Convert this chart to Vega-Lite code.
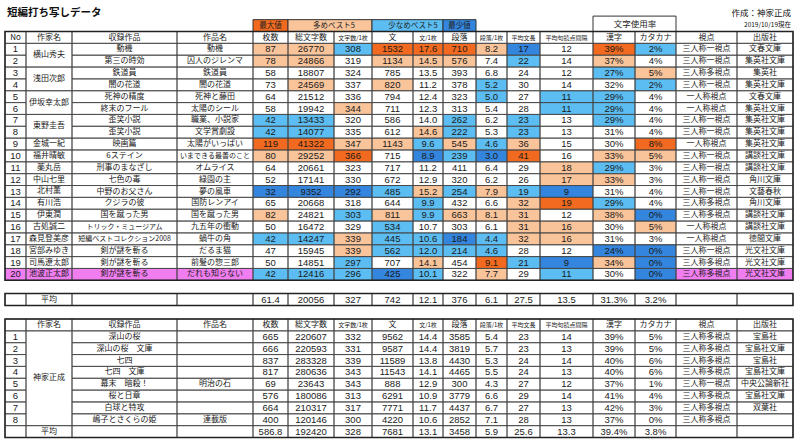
{
"$schema":"https://vega.github.io/schema/vega-lite/v6.json",
"width":800,"height":444,"padding":0,"autosize":{"type":"none"},"background":"white",
"config":{"view":{"stroke":null},"font":"Noto Sans CJK JP"},
"datasets":{
"cols":[{"k":"no","c":0,"ce":1,"cm":0.5},{"k":"au","c":1,"ce":2,"cm":1.5},{"k":"col","c":2,"ce":3,"cm":2.5},{"k":"title","c":3,"ce":4,"cm":3.5},{"k":"sheets","c":4,"ce":5,"cm":4.5},{"k":"chars","c":5,"ce":6,"cm":5.5},{"k":"cpp","c":6,"ce":7,"cm":6.5},{"k":"sent","c":7,"ce":8,"cm":7.5},{"k":"spp","c":8,"ce":9,"cm":8.5},{"k":"para","c":9,"ce":10,"cm":9.5},{"k":"ppp","c":10,"ce":11,"cm":10.5},{"k":"slen","c":11,"ce":12,"cm":11.5},{"k":"pint","c":12,"ce":13,"cm":12.5},{"k":"kanji","c":13,"ce":14,"cm":13.5},{"k":"kata","c":14,"ce":15,"cm":14.5},{"k":"pov","c":15,"ce":16,"cm":15.5},{"k":"pub","c":16,"ce":17,"cm":16.5}],
"rows":[
{"r":0,"re":1,"no":"No","au":"作家名","col":"収録作品","title":"作品名","sheets":"枚数","chars":"総文字数","cpp":"文字数/1枚","sent":"文","spp":"文/1枚","para":"段落","ppp":"段落/1枚","slen":"平均文長","pint":"平均句読点間隔","kanji":"漢字","kata":"カタカナ","pov":"視点","pub":"出版社"},
{"r":1,"re":2,"no":"1","col":"動機","title":"動機","sheets":"87","chars":"26770","cpp":"308","sent":"1532","spp":"17.6","para":"710","ppp":"8.2","slen":"17","pint":"12","kanji":"39%","kata":"2%","pov":"三人称一視点","pub":"文春文庫"},
{"r":2,"re":3,"no":"2","col":"第三の時効","title":"囚人のジレンマ","sheets":"78","chars":"24866","cpp":"319","sent":"1134","spp":"14.5","para":"576","ppp":"7.4","slen":"22","pint":"14","kanji":"37%","kata":"4%","pov":"三人称一視点","pub":"集英社文庫"},
{"r":3,"re":4,"no":"3","col":"鉄道員","title":"鉄道員","sheets":"58","chars":"18807","cpp":"324","sent":"785","spp":"13.5","para":"393","ppp":"6.8","slen":"24","pint":"12","kanji":"27%","kata":"5%","pov":"三人称多視点","pub":"集英社"},
{"r":4,"re":5,"no":"4","col":"闇の花道","title":"闇の花道","sheets":"73","chars":"24569","cpp":"337","sent":"820","spp":"11.2","para":"378","ppp":"5.2","slen":"30","pint":"14","kanji":"32%","kata":"2%","pov":"三人称一視点","pub":"集英社文庫"},
{"r":5,"re":6,"no":"5","col":"死神の精度","title":"死神と藤田","sheets":"64","chars":"21512","cpp":"336","sent":"794","spp":"12.4","para":"323","ppp":"5.0","slen":"27","pint":"11","kanji":"29%","kata":"4%","pov":"一人称視点","pub":"文春文庫"},
{"r":6,"re":7,"no":"6","col":"終末のフール","title":"太陽のシール","sheets":"58","chars":"19942","cpp":"344","sent":"711","spp":"12.3","para":"313","ppp":"5.4","slen":"28","pint":"11","kanji":"29%","kata":"4%","pov":"一人称視点","pub":"集英社文庫"},
{"r":7,"re":8,"no":"7","col":"歪笑小説","title":"職業、小説家","sheets":"42","chars":"13433","cpp":"320","sent":"586","spp":"14.0","para":"262","ppp":"6.2","slen":"23","pint":"13","kanji":"29%","kata":"4%","pov":"三人称一視点","pub":"集英社文庫"},
{"r":8,"re":9,"no":"8","col":"歪笑小説","title":"文学賞劇設","sheets":"42","chars":"14077","cpp":"335","sent":"612","spp":"14.6","para":"222","ppp":"5.3","slen":"23","pint":"13","kanji":"31%","kata":"4%","pov":"三人称一視点","pub":"集英社文庫"},
{"r":9,"re":10,"no":"9","col":"映画篇","title":"太陽がいっぱい","sheets":"119","chars":"41322","cpp":"347","sent":"1143","spp":"9.6","para":"545","ppp":"4.6","slen":"36","pint":"15","kanji":"30%","kata":"8%","pov":"一人称視点","pub":"集英社文庫"},
{"r":10,"re":11,"no":"10","col":"6ステイン","title":"いまできる最善のこと","sheets":"80","chars":"29252","cpp":"366","sent":"715","spp":"8.9","para":"239","ppp":"3.0","slen":"41","pint":"16","kanji":"33%","kata":"5%","pov":"三人称一視点","pub":"講談社文庫"},
{"r":11,"re":12,"no":"11","col":"刑事のまなざし","title":"オムライス","sheets":"64","chars":"20661","cpp":"323","sent":"717","spp":"11.2","para":"411","ppp":"6.4","slen":"29","pint":"18","kanji":"29%","kata":"3%","pov":"三人称一視点","pub":"講談社文庫"},
{"r":12,"re":13,"no":"12","col":"七色の毒","title":"緑園の主","sheets":"52","chars":"17141","cpp":"330","sent":"672","spp":"12.9","para":"320","ppp":"6.2","slen":"26","pint":"17","kanji":"33%","kata":"3%","pov":"三人称一視点","pub":"角川文庫"},
{"r":13,"re":14,"no":"13","col":"中野のお父さん","title":"夢の風車","sheets":"32","chars":"9352","cpp":"292","sent":"485","spp":"15.2","para":"254","ppp":"7.9","slen":"19","pint":"9","kanji":"31%","kata":"4%","pov":"三人称一視点","pub":"文藝春秋"},
{"r":14,"re":15,"no":"14","col":"クジラの彼","title":"国防レンアイ","sheets":"65","chars":"20668","cpp":"318","sent":"644","spp":"9.9","para":"432","ppp":"6.6","slen":"32","pint":"19","kanji":"29%","kata":"4%","pov":"三人称多視点","pub":"角川文庫"},
{"r":15,"re":16,"no":"15","col":"国を蹴った男","title":"国を蹴った男","sheets":"82","chars":"24821","cpp":"303","sent":"811","spp":"9.9","para":"663","ppp":"8.1","slen":"31","pint":"12","kanji":"38%","kata":"0%","pov":"三人称多視点","pub":"講談社文庫"},
{"r":16,"re":17,"no":"16","col":"トリック・ミュージアム","title":"九五年の衝動","sheets":"50","chars":"16472","cpp":"329","sent":"534","spp":"10.7","para":"303","ppp":"6.1","slen":"31","pint":"16","kanji":"30%","kata":"5%","pov":"一人称視点","pub":"講談社文庫"},
{"r":17,"re":18,"no":"17","col":"短編ベストコレクション2008","title":"蝸牛の角","sheets":"42","chars":"14247","cpp":"339","sent":"445","spp":"10.6","para":"184","ppp":"4.4","slen":"32","pint":"16","kanji":"31%","kata":"3%","pov":"一人称視点","pub":"徳間文庫"},
{"r":18,"re":19,"no":"18","col":"剣が謎を斬る","title":"だるま猫","sheets":"47","chars":"15945","cpp":"339","sent":"562","spp":"12.0","para":"214","ppp":"4.6","slen":"28","pint":"12","kanji":"24%","kata":"0%","pov":"三人称一視点","pub":"光文社文庫"},
{"r":19,"re":20,"no":"19","col":"剣が謎を斬る","title":"前髪の惣三郎","sheets":"50","chars":"14851","cpp":"297","sent":"707","spp":"14.1","para":"454","ppp":"9.1","slen":"21","pint":"9","kanji":"34%","kata":"0%","pov":"三人称多視点","pub":"光文社文庫"},
{"r":20,"re":21,"no":"20","col":"剣が謎を斬る","title":"だれも知らない","sheets":"42","chars":"12416","cpp":"296","sent":"425","spp":"10.1","para":"322","ppp":"7.7","slen":"29","pint":"11","kanji":"30%","kata":"0%","pov":"三人称多視点","pub":"光文社文庫"},
{"r":22,"re":23,"no":"","au":"平均","col":"","title":"","sheets":"61.4","chars":"20056","cpp":"327","sent":"742","spp":"12.1","para":"376","ppp":"6.1","slen":"27.5","pint":"13.5","kanji":"31.3%","kata":"3.2%","pov":"","pub":""},
{"r":24,"re":25,"no":"","au":"作家名","col":"収録作品","title":"作品名","sheets":"枚数","chars":"総文字数","cpp":"文字数/1枚","sent":"文","spp":"文/1枚","para":"段落","ppp":"段落/1枚","slen":"平均文長","pint":"平均句読点間隔","kanji":"漢字","kata":"カタカナ","pov":"視点","pub":"出版社"},
{"r":25,"re":26,"no":"1","col":"深山の桜","title":"","sheets":"665","chars":"220607","cpp":"332","sent":"9562","spp":"14.4","para":"3585","ppp":"5.4","slen":"23","pint":"14","kanji":"39%","kata":"5%","pov":"三人称多視点","pub":"宝島社"},
{"r":26,"re":27,"no":"2","col":"深山の桜　文庫","title":"","sheets":"666","chars":"220593","cpp":"331","sent":"9587","spp":"14.4","para":"3819","ppp":"5.7","slen":"23","pint":"13","kanji":"39%","kata":"5%","pov":"三人称多視点","pub":"宝島社文庫"},
{"r":27,"re":28,"no":"3","col":"七四","title":"","sheets":"837","chars":"283328","cpp":"339","sent":"11589","spp":"13.8","para":"4430","ppp":"5.3","slen":"24","pint":"14","kanji":"40%","kata":"6%","pov":"三人称多視点","pub":"宝島社"},
{"r":28,"re":29,"no":"4","col":"七四　文庫","title":"","sheets":"817","chars":"280636","cpp":"343","sent":"11543","spp":"14.1","para":"4465","ppp":"5.5","slen":"24","pint":"13","kanji":"40%","kata":"6%","pov":"三人称多視点","pub":"宝島社文庫"},
{"r":29,"re":30,"no":"5","col":"幕末　暗殺！","title":"明治の石","sheets":"69","chars":"23643","cpp":"343","sent":"888","spp":"12.9","para":"300","ppp":"4.3","slen":"27","pint":"12","kanji":"37%","kata":"1%","pov":"三人称一視点","pub":"中央公論新社"},
{"r":30,"re":31,"no":"6","col":"桜と日章","title":"","sheets":"576","chars":"180086","cpp":"313","sent":"6291","spp":"10.9","para":"3779","ppp":"6.6","slen":"29","pint":"14","kanji":"41%","kata":"4%","pov":"三人称多視点","pub":"宝島社文庫"},
{"r":31,"re":32,"no":"7","col":"白球と特攻","title":"","sheets":"664","chars":"210317","cpp":"317","sent":"7771","spp":"11.7","para":"4437","ppp":"6.7","slen":"27","pint":"13","kanji":"42%","kata":"3%","pov":"三人称多視点","pub":"双葉社"},
{"r":32,"re":33,"no":"8","col":"嶋子とさくらの姫","title":"連載版","sheets":"400","chars":"120146","cpp":"300","sent":"4220","spp":"10.6","para":"2852","ppp":"7.1","slen":"28","pint":"13","kanji":"37%","kata":"0%","pov":"三人称多視点","pub":""},
{"r":33,"re":34,"no":"","au":"平均","col":"","title":"","sheets":"586.8","chars":"192420","cpp":"328","sent":"7681","spp":"13.1","para":"3458","ppp":"5.9","slen":"25.6","pint":"13.3","kanji":"39.4%","kata":"3.8%","pov":"","pub":""}
],
"authors":[
{"r":1,"re":3,"rm":2,"v":"横山秀夫"},{"r":3,"re":5,"rm":4,"v":"浅田次郎"},{"r":5,"re":7,"rm":6,"v":"伊坂幸太郎"},{"r":7,"re":9,"rm":8,"v":"東野圭吾"},
{"r":9,"re":10,"rm":9.5,"v":"金城一紀"},{"r":10,"re":11,"rm":10.5,"v":"福井晴敏"},{"r":11,"re":12,"rm":11.5,"v":"薬丸岳"},{"r":12,"re":13,"rm":12.5,"v":"中山七里"},
{"r":13,"re":14,"rm":13.5,"v":"北村薫"},{"r":14,"re":15,"rm":14.5,"v":"有川浩"},{"r":15,"re":16,"rm":15.5,"v":"伊東潤"},{"r":16,"re":17,"rm":16.5,"v":"古処誠二"},
{"r":17,"re":18,"rm":17.5,"v":"森見登美彦"},{"r":18,"re":19,"rm":18.5,"v":"宮部みゆき"},{"r":19,"re":20,"rm":19.5,"v":"司馬遼太郎"},{"r":20,"re":21,"rm":20.5,"v":"池波正太郎"},
{"r":25,"re":33,"rm":29,"v":"神家正成"}
],
"hl":[
{"r":1,"k":"sheets","h":"top"},{"r":1,"k":"chars","h":"top"},{"r":1,"k":"cpp","h":"low"},{"r":1,"k":"sent","h":"max"},{"r":1,"k":"spp","h":"max"},{"r":1,"k":"para","h":"max"},{"r":1,"k":"ppp","h":"top"},{"r":1,"k":"slen","h":"min"},{"r":1,"k":"kanji","h":"max"},{"r":1,"k":"kata","h":"low"},
{"r":2,"k":"sheets","h":"top"},{"r":2,"k":"chars","h":"top"},{"r":2,"k":"sent","h":"top"},{"r":2,"k":"spp","h":"top"},{"r":2,"k":"para","h":"top"},{"r":2,"k":"slen","h":"low"},{"r":2,"k":"kanji","h":"top"},
{"r":3,"k":"kanji","h":"low"},{"r":3,"k":"kata","h":"top"},
{"r":4,"k":"chars","h":"top"},{"r":4,"k":"sent","h":"top"},{"r":4,"k":"ppp","h":"low"},{"r":4,"k":"kata","h":"low"},
{"r":5,"k":"ppp","h":"low"},{"r":5,"k":"pint","h":"low"},{"r":5,"k":"kanji","h":"low"},
{"r":6,"k":"cpp","h":"top"},{"r":6,"k":"pint","h":"low"},{"r":6,"k":"kanji","h":"low"},
{"r":7,"k":"sheets","h":"low"},{"r":7,"k":"chars","h":"low"},{"r":7,"k":"para","h":"low"},{"r":7,"k":"slen","h":"low"},{"r":7,"k":"kanji","h":"low"},
{"r":8,"k":"sheets","h":"low"},{"r":8,"k":"chars","h":"low"},{"r":8,"k":"spp","h":"top"},{"r":8,"k":"para","h":"low"},{"r":8,"k":"slen","h":"low"},
{"r":9,"k":"sheets","h":"max"},{"r":9,"k":"chars","h":"max"},{"r":9,"k":"cpp","h":"top"},{"r":9,"k":"sent","h":"top"},{"r":9,"k":"spp","h":"low"},{"r":9,"k":"para","h":"top"},{"r":9,"k":"ppp","h":"low"},{"r":9,"k":"slen","h":"top"},{"r":9,"k":"kata","h":"max"},
{"r":10,"k":"sheets","h":"top"},{"r":10,"k":"chars","h":"top"},{"r":10,"k":"cpp","h":"max"},{"r":10,"k":"spp","h":"min"},{"r":10,"k":"para","h":"low"},{"r":10,"k":"ppp","h":"min"},{"r":10,"k":"slen","h":"max"},{"r":10,"k":"kanji","h":"top"},{"r":10,"k":"kata","h":"top"},
{"r":11,"k":"pint","h":"top"},{"r":11,"k":"kanji","h":"low"},
{"r":12,"k":"pint","h":"top"},{"r":12,"k":"kanji","h":"top"},
{"r":13,"k":"sheets","h":"min"},{"r":13,"k":"chars","h":"min"},{"r":13,"k":"cpp","h":"min"},{"r":13,"k":"sent","h":"low"},{"r":13,"k":"spp","h":"top"},{"r":13,"k":"para","h":"low"},{"r":13,"k":"ppp","h":"top"},{"r":13,"k":"slen","h":"low"},{"r":13,"k":"pint","h":"min"},
{"r":14,"k":"spp","h":"low"},{"r":14,"k":"slen","h":"top"},{"r":14,"k":"pint","h":"max"},{"r":14,"k":"kanji","h":"low"},
{"r":15,"k":"sheets","h":"top"},{"r":15,"k":"cpp","h":"low"},{"r":15,"k":"sent","h":"top"},{"r":15,"k":"spp","h":"low"},{"r":15,"k":"para","h":"top"},{"r":15,"k":"ppp","h":"top"},{"r":15,"k":"slen","h":"top"},{"r":15,"k":"kanji","h":"top"},{"r":15,"k":"kata","h":"min"},
{"r":16,"k":"sent","h":"low"},{"r":16,"k":"slen","h":"top"},{"r":16,"k":"pint","h":"top"},{"r":16,"k":"kata","h":"top"},
{"r":17,"k":"sheets","h":"low"},{"r":17,"k":"chars","h":"low"},{"r":17,"k":"cpp","h":"top"},{"r":17,"k":"sent","h":"low"},{"r":17,"k":"spp","h":"low"},{"r":17,"k":"para","h":"min"},{"r":17,"k":"ppp","h":"low"},{"r":17,"k":"slen","h":"top"},{"r":17,"k":"pint","h":"top"},
{"r":18,"k":"cpp","h":"top"},{"r":18,"k":"sent","h":"low"},{"r":18,"k":"spp","h":"low"},{"r":18,"k":"para","h":"low"},{"r":18,"k":"ppp","h":"low"},{"r":18,"k":"kanji","h":"min"},{"r":18,"k":"kata","h":"min"},
{"r":19,"k":"cpp","h":"low"},{"r":19,"k":"spp","h":"top"},{"r":19,"k":"ppp","h":"max"},{"r":19,"k":"slen","h":"low"},{"r":19,"k":"pint","h":"min"},{"r":19,"k":"kanji","h":"top"},{"r":19,"k":"kata","h":"min"},
{"r":20,"k":"no","h":"pick"},{"r":20,"k":"au","h":"pick"},{"r":20,"k":"col","h":"pick"},{"r":20,"k":"title","h":"pick"},{"r":20,"k":"sheets","h":"low"},{"r":20,"k":"chars","h":"low"},{"r":20,"k":"cpp","h":"low"},{"r":20,"k":"sent","h":"min"},{"r":20,"k":"spp","h":"low"},{"r":20,"k":"ppp","h":"top"},{"r":20,"k":"pint","h":"low"},{"r":20,"k":"kata","h":"min"},{"r":20,"k":"pov","h":"pick"},{"r":20,"k":"pub","h":"pick"}
],
"legend":[
{"label":"最大値","h":"max","c":4,"ce":5,"cm":4.5,"r":-1,"re":0,"rm":-0.5},
{"label":"多めベスト5","h":"top","c":5,"ce":7,"cm":6,"r":-1,"re":0,"rm":-0.5},
{"label":"少なめベスト5","h":"low","c":7,"ce":9,"cm":8,"r":-1,"re":0,"rm":-0.5},
{"label":"最少値","h":"min","c":9,"ce":10,"cm":9.5,"r":-1,"re":0,"rm":-0.5},
{"label":"文字使用率","h":"none","c":13,"ce":15,"cm":14,"r":-1.3,"re":0,"rm":-0.65}
],
"frames":[{"r":0,"re":21},{"r":22,"re":23},{"r":24,"re":34}]
},
"resolve":{"scale":{"x":"independent","y":"independent","fill":"independent","size":"independent"}},
"layer":[
{"data":{"name":"hl"},
 "transform":[{"lookup":"k","from":{"data":{"name":"cols"},"key":"k","fields":["c","ce"]}},{"lookup":"r","from":{"data":{"name":"rows"},"key":"r","fields":["re"]}}],
 "mark":{"type":"rect"},
 "encoding":{
  "x":{"field":"c","type":"quantitative","axis":null,"scale":{"domain":[0,1,2,3,4,5,6,7,8,9,10,11,12,13,14,15,16,17],"range":[5,26,72,177,253,288,334,372,413,443,476,507,540,593,635,676,737,793],"zero":false,"nice":false}},
  "x2":{"field":"ce"},
  "y":{"field":"r","type":"quantitative","axis":null,"scale":{"domain":[-2,0,21,22,23,24,34],"range":[7.8,31.5,280.3,293.5,305.5,319,437.5],"zero":false,"nice":false}},
  "y2":{"field":"re"},
  "fill":{"field":"h","type":"nominal","legend":null,"scale":{"domain":["max","top","low","min","pick","none"],"range":["#F26A1F","#F9C49A","#5CBDF2","#3385DD","#F07EF0","#FFFFFF"]}}
 }},
{"data":{"name":"legend"},
 "mark":{"type":"rect","stroke":"#333333","strokeWidth":1},
 "encoding":{
  "x":{"field":"c","type":"quantitative","axis":null,"scale":{"domain":[0,1,2,3,4,5,6,7,8,9,10,11,12,13,14,15,16,17],"range":[5,26,72,177,253,288,334,372,413,443,476,507,540,593,635,676,737,793],"zero":false,"nice":false}},
  "x2":{"field":"ce"},
  "y":{"field":"r","type":"quantitative","axis":null,"scale":{"domain":[-2,0,21,22,23,24,34],"range":[7.8,31.5,280.3,293.5,305.5,319,437.5],"zero":false,"nice":false}},
  "y2":{"field":"re"},
  "fill":{"field":"h","type":"nominal","legend":null,"scale":{"domain":["max","top","low","min","pick","none"],"range":["#F26A1F","#F9C49A","#5CBDF2","#3385DD","#F07EF0","#FFFFFF"]}}
 }},
{"data":{"name":"legend"},
 "mark":{"type":"text","baseline":"middle","font":"Noto Sans CJK JP","color":"#222222"},
 "encoding":{
  "x":{"field":"cm","type":"quantitative","axis":null,"scale":{"domain":[0,1,2,3,4,5,6,7,8,9,10,11,12,13,14,15,16,17],"range":[5,26,72,177,253,288,334,372,413,443,476,507,540,593,635,676,737,793],"zero":false,"nice":false}},
  "y":{"field":"rm","type":"quantitative","axis":null,"scale":{"domain":[-2,0,21,22,23,24,34],"range":[7.8,31.5,280.3,293.5,305.5,319,437.5],"zero":false,"nice":false}},
  "text":{"field":"label","type":"nominal"},
  "size":{"condition":{"test":"datum.h=='none'","value":8.5},"value":7.5}
 }},
{"data":{"name":"rows"},
 "transform":[{"fold":["no","au","col","title","sheets","chars","cpp","sent","spp","para","ppp","slen","pint","kanji","kata","pov","pub"],"as":["key","value"]},{"filter":"isValid(datum.value)"},{"lookup":"key","from":{"data":{"name":"cols"},"key":"k","fields":["c","ce","cm"]}}],
 "layer":[
  {"mark":{"type":"rect","fill":"white","fillOpacity":0,"stroke":"#444444","strokeWidth":0.8},
   "encoding":{
    "x":{"field":"c","type":"quantitative","axis":null,"scale":{"domain":[0,1,2,3,4,5,6,7,8,9,10,11,12,13,14,15,16,17],"range":[5,26,72,177,253,288,334,372,413,443,476,507,540,593,635,676,737,793],"zero":false,"nice":false}},
    "x2":{"field":"ce"},
    "y":{"field":"r","type":"quantitative","axis":null,"scale":{"domain":[-2,0,21,22,23,24,34],"range":[7.8,31.5,280.3,293.5,305.5,319,437.5],"zero":false,"nice":false}},
    "y2":{"field":"re"}
   }},
  {"mark":{"type":"text","baseline":"middle","dy":6,"color":"#1a1a1a","font":{"expr":"test(/^[0-9.%]+$/, datum.value) ? 'Liberation Sans' : 'Noto Sans CJK JP'"}},
   "encoding":{
    "x":{"field":"cm","type":"quantitative","axis":null,"scale":{"domain":[0,1,2,3,4,5,6,7,8,9,10,11,12,13,14,15,16,17],"range":[5,26,72,177,253,288,334,372,413,443,476,507,540,593,635,676,737,793],"zero":false,"nice":false}},
    "y":{"field":"r","type":"quantitative","axis":null,"scale":{"domain":[-2,0,21,22,23,24,34],"range":[7.8,31.5,280.3,293.5,305.5,319,437.5],"zero":false,"nice":false}},
    "text":{"field":"value","type":"nominal"},
    "size":{"condition":[
      {"test":"(datum.r==0||datum.r==24) && indexof(['cpp','spp','ppp','slen','pint'],datum.key)>=0","value":6},
      {"test":"test(/^[0-9.%]+$/, datum.value)","value":9.5},
      {"test":"length(datum.value)>8","value":7}],"value":8}
   }}
 ],
 "resolve":{"scale":{"x":"independent","y":"independent","size":"independent"}}
},
{"data":{"name":"authors"},
 "layer":[
  {"mark":{"type":"rect","fill":"white","fillOpacity":0,"stroke":"#444444","strokeWidth":0.8},
   "encoding":{
    "x":{"datum":1,"type":"quantitative","axis":null,"scale":{"domain":[0,1,2,3,4,5,6,7,8,9,10,11,12,13,14,15,16,17],"range":[5,26,72,177,253,288,334,372,413,443,476,507,540,593,635,676,737,793],"zero":false,"nice":false}},
    "x2":{"datum":2},
    "y":{"field":"r","type":"quantitative","axis":null,"scale":{"domain":[-2,0,21,22,23,24,34],"range":[7.8,31.5,280.3,293.5,305.5,319,437.5],"zero":false,"nice":false}},
    "y2":{"field":"re"}
   }},
  {"mark":{"type":"text","baseline":"middle","font":"Noto Sans CJK JP","fontSize":8,"color":"#1a1a1a"},
   "encoding":{
    "x":{"datum":1.5,"type":"quantitative","axis":null,"scale":{"domain":[0,1,2,3,4,5,6,7,8,9,10,11,12,13,14,15,16,17],"range":[5,26,72,177,253,288,334,372,413,443,476,507,540,593,635,676,737,793],"zero":false,"nice":false}},
    "y":{"field":"rm","type":"quantitative","axis":null,"scale":{"domain":[-2,0,21,22,23,24,34],"range":[7.8,31.5,280.3,293.5,305.5,319,437.5],"zero":false,"nice":false}},
    "text":{"field":"v","type":"nominal"}
   }}
 ],
 "resolve":{"scale":{"x":"independent","y":"independent"}}
},
{"data":{"name":"frames"},
 "mark":{"type":"rect","fill":"white","fillOpacity":0,"stroke":"#222222","strokeWidth":1.5},
 "encoding":{
  "x":{"datum":0,"type":"quantitative","axis":null,"scale":{"domain":[0,1,2,3,4,5,6,7,8,9,10,11,12,13,14,15,16,17],"range":[5,26,72,177,253,288,334,372,413,443,476,507,540,593,635,676,737,793],"zero":false,"nice":false}},
  "x2":{"datum":17},
  "y":{"field":"r","type":"quantitative","axis":null,"scale":{"domain":[-2,0,21,22,23,24,34],"range":[7.8,31.5,280.3,293.5,305.5,319,437.5],"zero":false,"nice":false}},
  "y2":{"field":"re"}
 }},
{"data":{"values":[{"v":"短編打ち写しデータ"}]},
 "mark":{"type":"text","align":"left","baseline":"middle","dx":2,"font":"Noto Sans CJK JP","fontSize":10.5,"fontWeight":"bold","color":"#111111"},
 "encoding":{
  "x":{"datum":0,"type":"quantitative","axis":null,"scale":{"domain":[0,1,2,3,4,5,6,7,8,9,10,11,12,13,14,15,16,17],"range":[5,26,72,177,253,288,334,372,413,443,476,507,540,593,635,676,737,793],"zero":false,"nice":false}},
  "y":{"datum":-1.6,"type":"quantitative","axis":null,"scale":{"domain":[-2,0,21,22,23,24,34],"range":[7.8,31.5,280.3,293.5,305.5,319,437.5],"zero":false,"nice":false}},
  "text":{"field":"v","type":"nominal"}
 }},
{"data":{"values":[{"v":"作成：神家正成"}]},
 "mark":{"type":"text","align":"right","baseline":"middle","dx":-2,"font":"Noto Sans CJK JP","fontSize":8.5,"color":"#111111"},
 "encoding":{
  "x":{"datum":17,"type":"quantitative","axis":null,"scale":{"domain":[0,1,2,3,4,5,6,7,8,9,10,11,12,13,14,15,16,17],"range":[5,26,72,177,253,288,334,372,413,443,476,507,540,593,635,676,737,793],"zero":false,"nice":false}},
  "y":{"datum":-1.6,"type":"quantitative","axis":null,"scale":{"domain":[-2,0,21,22,23,24,34],"range":[7.8,31.5,280.3,293.5,305.5,319,437.5],"zero":false,"nice":false}},
  "text":{"field":"v","type":"nominal"}
 }},
{"data":{"values":[{"v":"2019/10/19現在"}]},
 "mark":{"type":"text","align":"right","baseline":"middle","dx":-2,"font":"Noto Sans CJK JP","fontSize":6.5,"color":"#111111"},
 "encoding":{
  "x":{"datum":17,"type":"quantitative","axis":null,"scale":{"domain":[0,1,2,3,4,5,6,7,8,9,10,11,12,13,14,15,16,17],"range":[5,26,72,177,253,288,334,372,413,443,476,507,540,593,635,676,737,793],"zero":false,"nice":false}},
  "y":{"datum":-0.55,"type":"quantitative","axis":null,"scale":{"domain":[-2,0,21,22,23,24,34],"range":[7.8,31.5,280.3,293.5,305.5,319,437.5],"zero":false,"nice":false}},
  "text":{"field":"v","type":"nominal"}
 }}
]
}
